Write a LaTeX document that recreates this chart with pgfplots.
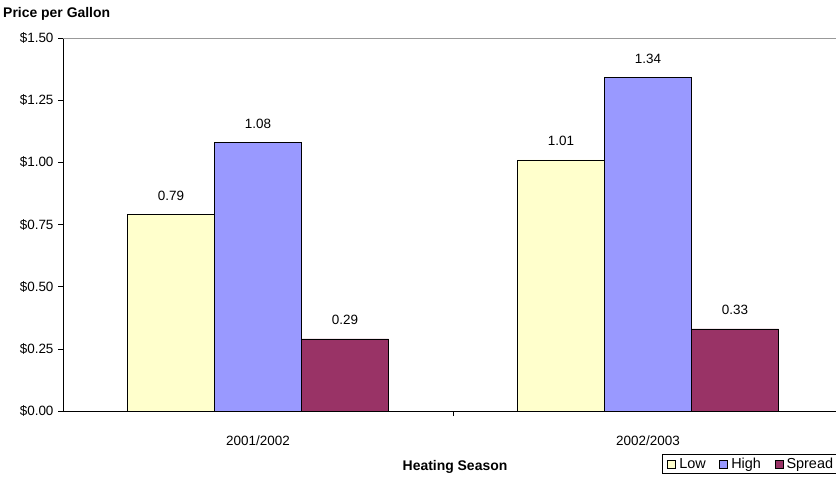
\documentclass[border=0pt]{standalone}
\usepackage{fontspec}
\setmainfont{Liberation Sans}
\usepackage{pgfplots}
\pgfplotsset{compat=1.18}
\definecolor{lowc}{HTML}{FFFFCC}
\definecolor{highc}{HTML}{9999FF}
\definecolor{spreadc}{HTML}{993366}
\begin{document}
\begin{tikzpicture}
\useasboundingbox (-63bp,-71bp) rectangle (773bp,411bp);
\begin{axis}[
  name=ax,
  at={(0,0)}, anchor=south west,
  scale only axis,
  width=780bp, height=373bp,
  xmin=-0.5, xmax=1.5, ymin=0, ymax=1.5,
  ybar=0pt, bar width=87bp,
  axis x line*=bottom, axis y line*=left,
  axis line style={black, -},
  /pgf/number format/assume math mode=true,
  /pgf/number format/.cd, fixed, fixed zerofill, precision=2, /pgfplots/.cd,
  ytick={0,0.25,0.5,0.75,1,1.25,1.5},
  yticklabel={\$\pgfmathprintnumber{\tick}},
  ytick style={black, line width=0.6pt},
  tick align=outside,
  major tick length=5bp,
  xtick={0,1},
  xticklabels={2001/2002,2002/2003},
  x tick style={draw=none},
  extra x ticks={0.5},
  extra x tick labels={},
  extra x tick style={x tick style={black, line width=0.6pt, draw=black}},
  tick label style={font=\fontsize{13.5}{15}\selectfont},
  xticklabel style={anchor=center, yshift=-25bp},
  yticklabel style={xshift=-1bp},
  nodes near coords,
  every node near coord/.append style={font=\fontsize{13.5}{15}\selectfont, anchor=center, yshift=19bp},
  legend columns=-1,
  legend style={overlay, at={(599bp,-43bp)}, anchor=north west, draw=black, line width=0.6pt,
    font=\fontsize{14.5}{16}\selectfont, inner xsep=5bp, inner ysep=2bp,
    /tikz/every odd column/.append style={column sep=2bp},
    /tikz/every even column/.append style={column sep=12bp},
    nodes={inner sep=1.5bp}},
  legend image code/.code={\draw[#1, draw=black, line width=0.5pt] (0bp,-4bp) rectangle (8bp,4bp);},
]
\draw[gray!80, line width=0.8pt] (axis cs:-0.5,1.5) -- (axis cs:1.5,1.5);
\addplot[fill=lowc, draw=black, line width=0.6pt] coordinates {(0,0.79) (1,1.01)};
\addplot[fill=highc, draw=black, line width=0.6pt] coordinates {(0,1.08) (1,1.34)};
\addplot[fill=spreadc, draw=black, line width=0.6pt] coordinates {(0,0.29) (1,0.33)};
\legend{Low,High,Spread}
\end{axis}
\node[anchor=west, inner sep=0pt, font=\fontsize{14}{15}\selectfont\bfseries] at ([xshift=-60bp,yshift=24bp]ax.north west) {Price per Gallon};
\node[font=\fontsize{14}{15}\selectfont\bfseries] at ([xshift=392bp,yshift=-56bp]ax.south west) {Heating Season};
\end{tikzpicture}
\end{document}
